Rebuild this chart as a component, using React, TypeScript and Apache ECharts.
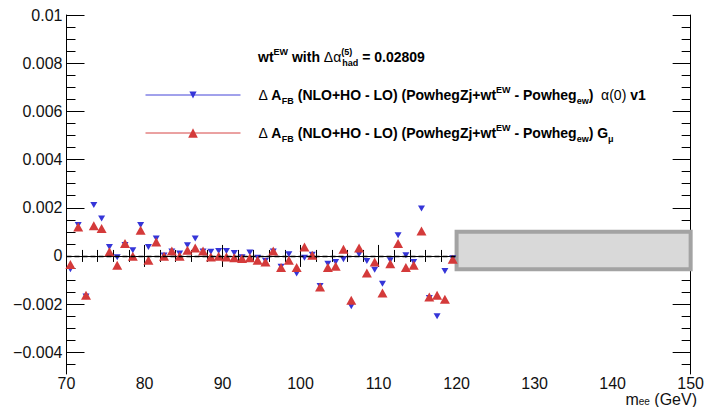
import React, { useEffect, useRef } from 'react';
import * as echarts from 'echarts';

// ---- data ----
const massBins = [
  70.5, 71.5, 72.5, 73.5, 74.5, 75.5, 76.5, 77.5, 78.5, 79.5,
  80.5, 81.5, 82.5, 83.5, 84.5, 85.5, 86.5, 87.5, 88.5, 89.5,
  90.5, 91.5, 92.5, 93.5, 94.5, 95.5, 96.5, 97.5, 98.5, 99.5,
  100.5, 101.5, 102.5, 103.5, 104.5, 105.5, 106.5, 107.5, 108.5, 109.5,
  110.5, 111.5, 112.5, 113.5, 114.5, 115.5, 116.5, 117.5, 118.5, 119.5,
];

// Delta A_FB, alpha(0) v1 (blue, inverted triangles)
const afbAlpha0 = [
  -0.00055, 0.00128, -0.00168, 0.00211, 0.00155, 0.00037, -0.00005, 0.00045, 0.00024, 0.00128,
  0.00037, 0.00072, 0.00002, 0.00018, 0.0001, 0.00044, 0.00072, 0.00018, 0.00017, 0.0002,
  0.0002, 0.00012, -0.00005, 0.00014, -0.00007, -0.0002, 0.00018, -0.00045, 0.00007, -0.00073,
  -0.00007, 0.00005, -0.00125, -0.00032, -0.00025, -0.00014, -0.00209, 0.00007, -0.00021, -0.00057,
  -0.00115, -0.00018, 0.00086, 0.00003, -0.00025, 0.00197, -0.00175, -0.0025, -0.00062, -0.0001,
];

// Delta A_FB, G_mu (red, triangles)
const afbGmu = [
  -0.00036, 0.0012, -0.00163, 0.00125, 0.00114, 0.00017, -0.00039, 0.00052, -0.00001, 0.00107,
  -0.00018, 0.00058, -0.00001, 0.00021, -0.00001, 0.00024, 0.00033, 0.00021, -0.00004, -0.00001,
  -0.00004, -0.00007, -0.00011, -0.00008, -0.00018, -0.00025, 0.00021, -0.00048, -0.00018, -0.00048,
  0.00037, 0.00003, -0.00129, -0.00048, -0.00043, 0.00028, -0.00184, 0.00033, -0.00071, -0.00025,
  -0.00154, -0.00032, 0.00052, -0.00048, -0.00039, 0.00104, -0.0017, -0.00163, -0.0018, -0.00014,
];

const yTickValues = [-0.004, -0.002, 0, 0.002, 0.004, 0.006, 0.008, 0.01];
const xRange = [70, 150];
const yRange = [-0.0049, 0.01];
const boxX = [120, 150];
const boxY = [0.001, -0.00055];

const FONT = '"Liberation Sans", Arial, Helvetica, sans-serif';
const FS = 14;
const SFS = 9;

const richStyles: any = {
  g: { fontFamily: FONT, fontWeight: 'normal', fontSize: FS, lineHeight: 20, color: '#000' },
  sup: { fontFamily: FONT, fontWeight: 'bold', fontSize: SFS, lineHeight: 10, verticalAlign: 'top', color: '#000' },
  sub: { fontFamily: FONT, fontWeight: 'bold', fontSize: SFS, lineHeight: 10, verticalAlign: 'bottom', color: '#000' },
  s5: { fontFamily: FONT, fontWeight: 'bold', fontSize: SFS, lineHeight: 10, verticalAlign: 'top', color: '#000', width: 1 },
};

const legendLabels: Record<string, string> = {
  alpha0: '{g|\u0394} A{sub|FB} (NLO+HO - LO) (PowhegZj+wt{sup|EW} - Powheg{sub|ew})  {g|\u03b1(0)} v1',
  gmu: '{g|\u0394} A{sub|FB} (NLO+HO - LO) (PowhegZj+wt{sup|EW} - Powheg{sub|ew}) G{sub|\u03bc}',
};

function buildMinorTicks(): number[] {
  const out: number[] = [];
  for (let k = -9; k <= 19; k++) out.push(Math.round(k * 0.0005 * 1e6) / 1e6);
  return out;
}

export default function App() {
  const ref = useRef<HTMLDivElement>(null);

  useEffect(() => {
    if (!ref.current) return;
    const chart = echarts.init(ref.current, undefined, { renderer: 'svg' });
    const minorTicks = buildMinorTicks();
    const baseText = { fontFamily: FONT, fontWeight: 'bold' as const, fontSize: FS, lineHeight: 20, color: '#000' };

    const xAxisCommon = {
      type: 'value' as const,
      min: xRange[0],
      max: xRange[1],
      interval: 10,
      axisLine: { show: true, lineStyle: { color: '#000', width: 1 } },
      axisTick: { show: true, inside: true, length: 11, lineStyle: { color: '#000', width: 1 } },
      minorTick: { show: true, splitNumber: 5, length: 6, lineStyle: { color: '#000', width: 1 } },
      splitLine: { show: false },
      minorSplitLine: { show: false },
    };

    const yMajor = (position: 'left' | 'right', labels: boolean) => ({
      type: 'value' as const,
      position,
      min: yRange[0],
      max: yRange[1],
      axisLine: { show: true, onZero: false, lineStyle: { color: '#000', width: 1 } },
      axisTick: { show: true, inside: true, length: 18, customValues: yTickValues, lineStyle: { color: '#000', width: 1 } },
      axisLabel: {
        show: labels,
        customValues: yTickValues,
        fontFamily: FONT,
        fontSize: 16,
        color: '#111',
        margin: 4,
        formatter: (v: number) => (Math.abs(v) < 1e-12 ? '0' : String(parseFloat(v.toFixed(4))).replace('-', '\u2212')),
      },
      splitLine: { show: false },
    });
    const yMinor = (position: 'left' | 'right') => ({
      type: 'value' as const,
      position,
      min: yRange[0],
      max: yRange[1],
      axisLine: { show: false },
      axisTick: { show: true, inside: true, length: 9, customValues: minorTicks, lineStyle: { color: '#000', width: 1 } },
      axisLabel: { show: false },
      splitLine: { show: false },
    });

    chart.setOption({
      animation: false,
      backgroundColor: '#fff',
      grid: { left: 66.5, right: 12, top: 15, bottom: 33, containLabel: false },
      title: [
        {
          text: '{b|wt}{sup|EW}{b| with }{g|\u0394\u03b1}{s5|(5)}{sub|had}{b| = 0.02809}',
          left: 258,
          top: 47,
          padding: 0,
          textStyle: { ...baseText, rich: { ...richStyles, b: { ...baseText } } },
        },
        {
          text: 'm{sub|ee} (GeV)',
          right: 10,
          top: 392,
          padding: 0,
          textStyle: {
            fontFamily: FONT,
            fontWeight: 'normal',
            fontSize: 16,
            lineHeight: 14,
            color: '#111',
            rich: {
              sub: { fontFamily: FONT, fontSize: 10, lineHeight: 7, verticalAlign: 'bottom', color: '#111' },
            },
          },
        },
      ],
      legend: [
        {
          data: ['alpha0'],
          left: 145,
          top: 85,
          padding: 0,
          itemWidth: 95,
          itemHeight: 9,
          selectedMode: false,
          formatter: (n: string) => legendLabels[n],
          textStyle: { ...baseText, padding: [0, 0, 0, 13], rich: richStyles },
          lineStyle: { width: 1, opacity: 1, color: '#4545d8' },
        },
        {
          data: ['gmu'],
          left: 145,
          top: 123,
          padding: 0,
          itemWidth: 95,
          itemHeight: 12,
          selectedMode: false,
          formatter: (n: string) => legendLabels[n],
          textStyle: { ...baseText, padding: [0, 0, 0, 13], rich: richStyles },
          lineStyle: { width: 1, opacity: 1, color: '#d64545' },
        },
      ],
      xAxis: [
        {
          ...xAxisCommon,
          position: 'bottom',
          axisLabel: { show: true, fontFamily: FONT, fontSize: 16, lineHeight: 14, color: '#111', margin: 2 },
        },
        {
          ...xAxisCommon,
          position: 'top',
          axisLabel: { show: false },
        },
      ],
      yAxis: [yMajor('left', true), yMinor('left'), yMajor('right', false), yMinor('right')],
      series: [
        {
          name: 'zero',
          type: 'line',
          xAxisIndex: 0,
          yAxisIndex: 0,
          data: [],
          z: 1,
          markLine: {
            silent: true,
            symbol: 'none',
            label: { show: false },
            lineStyle: { color: '#000', type: [5, 3], width: 1.3 },
            data: [[{ coord: [xRange[0], 0] }, { coord: [boxX[0], 0] }]],
          },
        },
        {
          name: 'alpha0',
          type: 'line',
          xAxisIndex: 0,
          yAxisIndex: 0,
          data: massBins.map((m, i) => [m, afbAlpha0[i]]),
          symbol: 'triangle',
          symbolRotate: 180,
          symbolSize: [7, 6],
          showSymbol: true,
          itemStyle: { color: '#3535d8' },
          lineStyle: { opacity: 0, width: 0 },
          emphasis: { disabled: true },
          z: 3,
        },
        {
          name: 'gmu',
          type: 'line',
          xAxisIndex: 0,
          yAxisIndex: 0,
          data: massBins.map((m, i) => [m, afbGmu[i]]),
          symbol: 'triangle',
          symbolSize: [10, 9],
          showSymbol: true,
          itemStyle: { color: '#d43a3a' },
          lineStyle: { opacity: 0, width: 0 },
          emphasis: { disabled: true },
          z: 3,
        },
        {
          name: 'box',
          type: 'line',
          xAxisIndex: 0,
          yAxisIndex: 0,
          data: [],
          z: 10,
          markArea: {
            silent: true,
            itemStyle: { color: '#d9d9d9', borderColor: '#a3a3a3', borderWidth: 4 },
            label: { show: false },
            data: [[{ coord: [boxX[0], boxY[0]] }, { coord: [boxX[1], boxY[1]] }]],
          },
        },
      ],
    });

    return () => chart.dispose();
  }, []);

  return (
    <div
      ref={ref}
      style={{ position: 'absolute', left: 0, top: 0, width: 707, height: 407, background: '#fff' }}
    />
  );
}
